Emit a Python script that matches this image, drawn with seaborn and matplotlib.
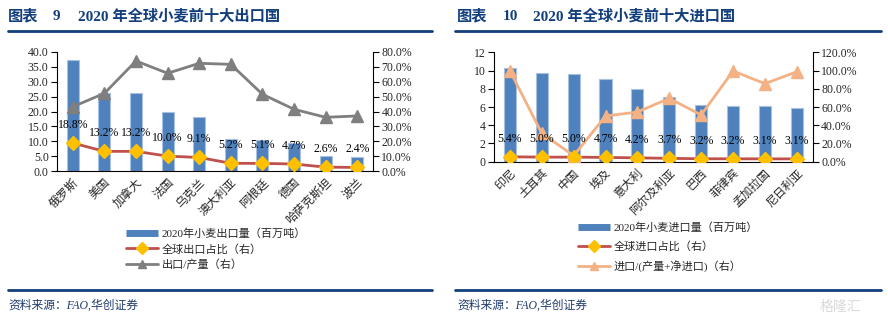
import numpy as np
import pandas as pd
import matplotlib
matplotlib.use('Agg')
import matplotlib.pyplot as plt
import seaborn as sns
from matplotlib.lines import Line2D
from matplotlib.ticker import FuncFormatter, MultipleLocator

sns.set_theme(style='white')
plt.rcParams['font.family'] = ['Liberation Serif', 'Noto Sans CJK SC', 'DejaVu Sans']

# ---- data ----
export_countries = ['俄罗斯', '美国', '加拿大', '法国', '乌克兰', '澳大利亚', '阿根廷', '德国', '哈萨克斯坦', '波兰']
export_volume = [37.3, 26.1, 26.1, 19.7, 18.0, 10.6, 10.4, 9.3, 5.2, 4.6]
export_share = [18.8, 13.2, 13.2, 10.0, 9.1, 5.2, 5.1, 4.7, 2.6, 2.4]
export_ratio = [43.2, 52.2, 74.0, 65.7, 72.4, 71.7, 51.6, 41.5, 36.1, 37.0]

import_countries = ['印尼', '土耳其', '中国', '埃及', '意大利', '阿尔及利亚', '巴西', '菲律宾', '孟加拉国', '尼日利亚']
import_volume = [10.3, 9.7, 9.6, 9.1, 8.0, 7.1, 6.2, 6.1, 6.1, 5.9]
import_share = [5.4, 5.0, 5.0, 4.7, 4.2, 3.7, 3.2, 3.2, 3.1, 3.1]
import_ratio = [99.8, 31.1, 6.6, 50.1, 54.5, 69.5, 51.2, 99.5, 85.6, 98.7]

export_labels = ['2020年小麦出口量（百万吨）', '全球出口占比（右）', '出口/产量（右）']
import_labels = ['2020年小麦进口量（百万吨）', '全球进口占比（右）', '进口/(产量+净进口)（右）']

BLUE = '#4F81BD'
RED = '#C0504D'
GOLD = '#FFC000'
GRAY = '#7F7F7F'
ORANGE = '#F4B183'
NAVY = '#123E7C'

W, H = 888, 325
fig = plt.figure(figsize=(W / 100, H / 100), dpi=100)


def fx(px):
    return px / W


def fy(py):
    return 1 - py / H


def panel(rect, cats, vol, share, ratio, ratio_color, ymax, ystep, y2max, y2step, yfmt, labels, leg_xy, leg_spacing):
    ax = fig.add_axes(rect)
    df = pd.DataFrame({'cat': cats, 'vol': vol})
    sns.barplot(data=df, x='cat', y='vol', color=BLUE, saturation=1, width=0.38,
                edgecolor='#A9C1E0', linewidth=0.8, ax=ax)
    n = len(cats)
    ax.set_xlim(-0.5, n - 0.5)
    ax.set_ylim(0, ymax)
    ax.yaxis.set_major_locator(MultipleLocator(ystep))
    ax.yaxis.set_major_formatter(FuncFormatter(yfmt))
    ax.set_xlabel('')
    ax.set_ylabel('')
    ax.set_xticks(np.arange(n))
    ax.set_xticklabels(cats, rotation=45, ha='right', rotation_mode='anchor', fontsize=8.5)
    ax.set_xticks(np.arange(n + 1) - 0.5, minor=True)
    ax.tick_params(axis='x', which='major', length=0, pad=4)
    ax.tick_params(axis='x', which='minor', length=4, width=0.8, color='black', direction='out')
    ax.tick_params(axis='y', length=4, width=0.8, color='black', direction='out', labelsize=8.5, pad=2)
    ax.tick_params(left=True)
    for s in ['top', 'right']:
        ax.spines[s].set_visible(False)
    for s in ['left', 'bottom']:
        ax.spines[s].set_color('black')
        ax.spines[s].set_linewidth(0.8)

    ax2 = ax.twinx()
    x = np.arange(n)
    ax2.plot(x, share, color=RED, lw=2, marker='D', markersize=7,
             markerfacecolor=GOLD, markeredgecolor=GOLD, zorder=3)
    ax2.plot(x, ratio, color=ratio_color, lw=2, marker='^', markersize=8.5,
             markerfacecolor=ratio_color, markeredgecolor=ratio_color, zorder=2)
    for i, v in enumerate(share):
        ax2.annotate(f'{v:.1f}%', (i, v), xytext=(0, 13), textcoords='offset points',
                     ha='center', va='center', fontsize=8.5, color='black', zorder=4)
    ax2.set_ylim(0, y2max)
    ax2.yaxis.set_major_locator(MultipleLocator(y2step))
    ax2.yaxis.set_major_formatter(FuncFormatter(lambda v, p: f'{v:.1f}%'))
    ax2.tick_params(axis='y', length=4, width=0.8, color='black', direction='out', labelsize=8.5, pad=2)
    ax2.tick_params(right=True)
    for s in ['top', 'left', 'bottom']:
        ax2.spines[s].set_visible(False)
    ax2.spines['right'].set_color('black')
    ax2.spines['right'].set_linewidth(0.8)
    ax2.grid(False)
    ax.grid(False)
    ax.set_xlim(-0.5, n - 0.5)

    handles = [
        Line2D([], [], color=BLUE, lw=5, solid_capstyle='butt'),
        Line2D([], [], color=RED, lw=2, marker='D', markersize=6, markerfacecolor=GOLD, markeredgecolor=GOLD),
        Line2D([], [], color=ratio_color, lw=2, marker='^', markersize=6, markerfacecolor=ratio_color,
               markeredgecolor=ratio_color),
    ]
    fig.legend(handles, labels, loc='upper left', bbox_to_anchor=(fx(leg_xy[0]), fy(leg_xy[1])),
               bbox_transform=fig.transFigure, frameon=False, fontsize=8, numpoints=1,
               handlelength=2.9, handletextpad=0.3, labelspacing=leg_spacing, borderpad=0, borderaxespad=0)
    return ax, ax2


# left panel
panel([fx(57), fy(171), fx(373) - fx(57), fy(52) - fy(171)],
      export_countries, export_volume, export_share, export_ratio, GRAY,
      40, 5, 80, 10, lambda v, p: f'{v:.1f}', export_labels, (126, 228), 0.45)

# right panel
panel([fx(494), fy(161.7), fx(812.7) - fx(494), fy(52.3) - fy(161.7)],
      import_countries, import_volume, import_share, import_ratio, ORANGE,
      12, 2, 120, 20, lambda v, p: f'{v:.0f}', import_labels, (578, 222), 0.75)

# titles
title_kw = dict(fontsize=11, fontweight='bold', color=NAVY, va='center', ha='left')
fig.text(fx(8), fy(16), '图表', **title_kw)
fig.text(fx(53), fy(16), '9', **title_kw)
fig.text(fx(78), fy(16), '2020 年全球小麦前十大出口国', **title_kw)
fig.text(fx(457), fy(16), '图表', **title_kw)
fig.text(fx(503), fy(16), '10', **title_kw)
fig.text(fx(533), fy(16), '2020 年全球小麦前十大进口国', **title_kw)

# rules
for x0, x1 in [(8, 432), (455, 881)]:
    fig.add_artist(Line2D([fx(x0), fx(x1)], [fy(31), fy(31)], color=NAVY, lw=2, transform=fig.transFigure))
    fig.add_artist(Line2D([fx(x0), fx(x1)], [fy(290), fy(290)], color=NAVY, lw=2, transform=fig.transFigure))

src_kw = dict(fontsize=8.5, style='italic', color='#1F3A6E', va='center', ha='left')
fig.text(fx(8), fy(306), '资料来源：FAO,华创证券', **src_kw)
fig.text(fx(457), fy(306), '资料来源：FAO,华创证券', **src_kw)

fig.text(fx(820), fy(307), '格隆汇', fontsize=10, color='#D9D9D9', va='center', ha='left')

fig.savefig('out.png', dpi=100)
